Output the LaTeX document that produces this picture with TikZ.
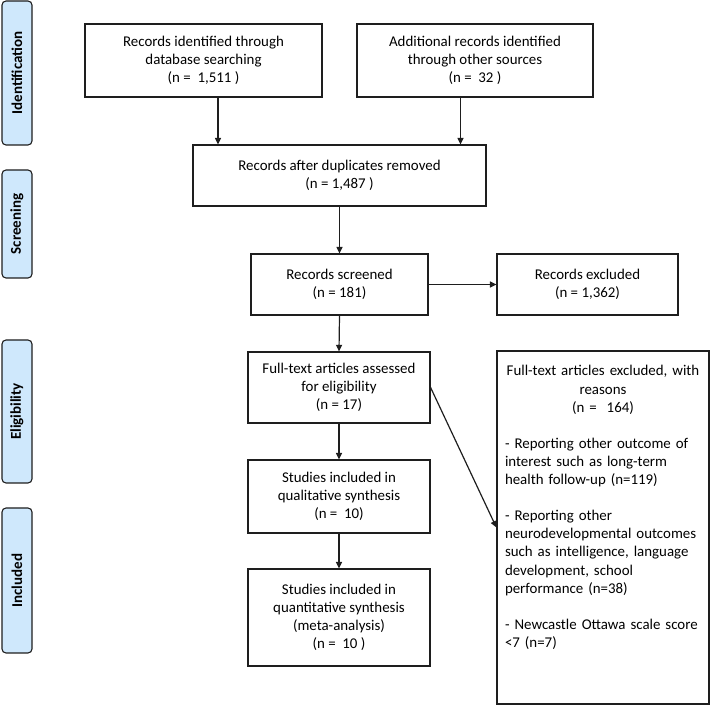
\documentclass[tikz,border=0pt]{standalone}
\usepackage{fontspec}
\setmainfont{Carlito}
\usetikzlibrary{arrows.meta}
\definecolor{phase}{RGB}{207,232,252}
\definecolor{ink}{RGB}{30,30,30}
\tikzset{
  box/.style={draw=ink, line width=1.2pt, rectangle, align=center, inner sep=2pt},
  phasebar/.style={draw=ink, line width=1.1pt, fill=phase, rounded corners=4pt, rectangle, minimum width=30pt},
  phaselabel/.style={rotate=90, inner sep=0pt, font=\fontsize{15}{18}\selectfont\bfseries},
  arr/.style={draw=ink, line width=1.2pt, -{Triangle[length=6.5pt,width=6pt]}}
}
\begin{document}
\begin{tikzpicture}[x=1pt,y=1pt, font=\fontsize{14.9}{18.1}\selectfont]
\useasboundingbox (0,0) rectangle (710,713);
% phase bars
\node[phasebar, minimum height=144pt] (pid) at (17,640) {};
\node[phasebar, minimum height=108pt] (psc) at (17,489) {};
\node[phasebar, minimum height=143pt] (pel) at (17,301.5) {};
\node[phasebar, minimum height=145pt] (pin) at (17,132.5) {};
\node[phaselabel] (lid) at (pid.center) {Identification};
\node[phaselabel] (lsc) at (psc.center) {Screening};
\node[phaselabel] (lel) at (pel.center) {Eligibility};
\node[phaselabel] (lin) at (pin.center) {Included};
% boxes
\node[box, minimum width=237pt, minimum height=73pt] (b1) at (203.5,652.5) {Records identified through\\database searching\\(n = \ 1,511 )};
\node[box, minimum width=236pt, minimum height=73pt] (b2) at (475,652.5) {Additional records identified\\through other sources\\(n = \ 32 )};
\node[box, minimum width=293pt, minimum height=61pt] (b3) at (339.5,537.5) {Records after duplicates removed\\(n = 1,487 )};
\node[box, minimum width=177pt, minimum height=61pt] (b4) at (339.5,428.5) {Records screened\\(n = 181)};
\node[box, minimum width=181pt, minimum height=61pt] (b5) at (587.5,428.5) {Records excluded\\(n = 1,362)};
\node[box, minimum width=182pt, minimum height=71pt] (b6) at (339,325.5) {Full-text articles assessed\\for eligibility\\(n = 17)};
\node[box, minimum width=182pt, minimum height=73pt] (b7) at (339,216.5) {Studies included in\\qualitative synthesis\\(n = \ 10)};
\node[box, minimum width=182pt, minimum height=97pt] (b8) at (339,95.5) {Studies included in\\quantitative synthesis\\(meta-analysis)\\(n = \ 10 )};
\node[box, minimum width=212pt, minimum height=353pt] (big) at (603,185.5) {};
\node[anchor=north, text width=196pt, inner sep=0pt] (bigtext) at ([yshift=-15pt]big.north)
{\centering Full-text articles excluded, with\\reasons\\(n = \ 164)\par\vspace{\baselineskip}
\raggedright - Reporting other outcome of\\interest such as long-term\\health follow-up (n=119)\par\vspace{\baselineskip}
- Reporting other\\neurodevelopmental outcomes\\such as intelligence, language\\development, school\\performance (n=38)\par\vspace{\baselineskip}
- Newcastle Ottawa scale score\\{<}7 (n=7)\par};
% connectors
\draw[arr] ([xshift=14.5pt]b1.south) -- ([xshift=14.5pt]b1.south |- b3.north);
\draw[arr] ([xshift=-14.5pt]b2.south) -- ([xshift=-14.5pt]b2.south |- b3.north);
\draw[arr] (b3.south) -- (b4.north);
\draw[arr] (b4.east) -- (b5.west);
\draw[arr] (b4.south) -- (b6.north);
\draw[arr] (b6.south) -- (b7.north);
\draw[arr] (b7.south) -- (b8.north);
\draw[arr] (b6.east) -- (big.west);
\end{tikzpicture}
\end{document}
